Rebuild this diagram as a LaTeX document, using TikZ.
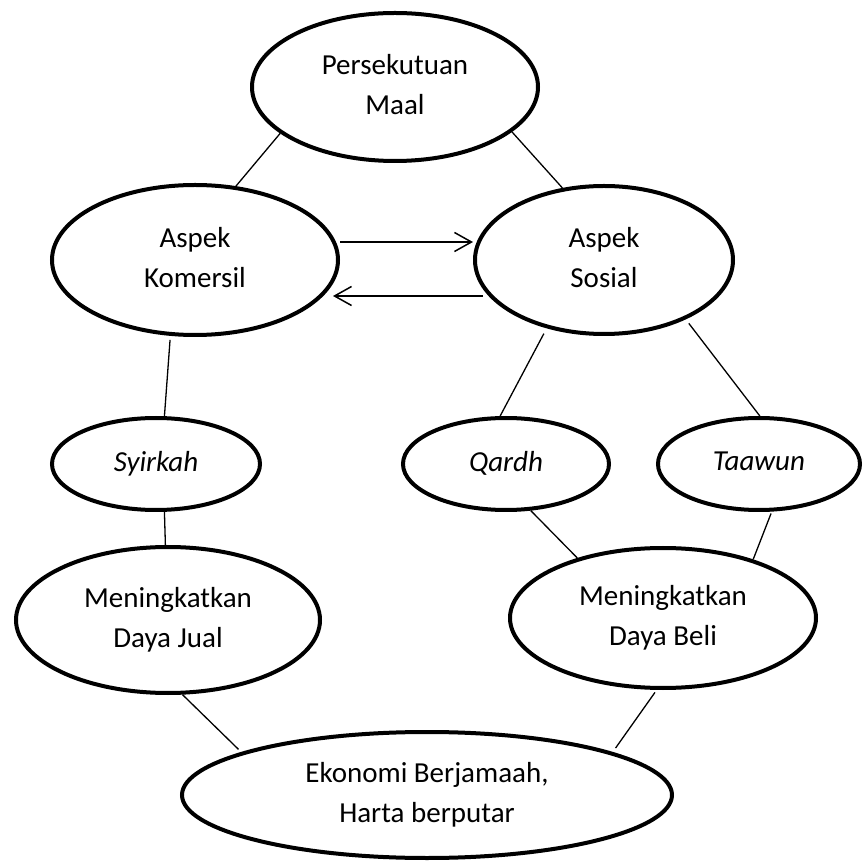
\documentclass[tikz,border=0pt]{standalone}
\usepackage{fontspec}
\setmainfont{Carlito}
\usetikzlibrary{shapes.geometric,arrows.meta}
% uniform line strut: 20pt above the baseline, 6pt below
\newcommand{\lnstrut}{\rule[-6pt]{0pt}{26pt}}
\begin{document}
\begin{tikzpicture}[x=1pt,y=1pt,
  bubble/.style={ellipse,draw=black,line width=4pt,inner sep=0pt,align=center,
    font=\fontsize{29}{40}\selectfont},
  link/.style={line width=1.3pt},
  flow/.style={line width=1.5pt,-{Straight Barb[length=17pt,width=19pt,line width=1.5pt]}}]
\useasboundingbox (0,0) rectangle (865,863);

% top level
\node[bubble,minimum width=286pt,minimum height=148pt] (pm) at (395,776)
  {\lnstrut Persekutuan\\\lnstrut Maal};

% the two aspects
\node[bubble,minimum width=286pt,minimum height=150pt] (ak) at (195,603)
  {\lnstrut Aspek\\\lnstrut Komersil};
\node[bubble,minimum width=258pt,minimum height=148pt] (as) at (604,603)
  {\lnstrut Aspek\\\lnstrut Sosial};

% instruments
\node[bubble,minimum width=208pt,minimum height=92pt] (sy) at (156,399) {\lnstrut\itshape Syirkah};
\node[bubble,minimum width=206pt,minimum height=92pt] (qa) at (506,399) {\lnstrut\itshape Qardh};
\node[bubble,minimum width=202pt,minimum height=92pt] (ta) at (759,399) {\lnstrut\itshape Taawun};

% effects
\node[bubble,minimum width=304pt,minimum height=146pt] (dj) at (168,243)
  {\lnstrut Meningkatkan\\\lnstrut Daya Jual};
\node[bubble,minimum width=306pt,minimum height=140pt] (db) at (663,245)
  {\lnstrut Meningkatkan\\\lnstrut Daya Beli};

% outcome
\node[bubble,minimum width=490pt,minimum height=126pt] (ek) at (427,68)
  {\lnstrut Ekonomi Berjamaah,\\\lnstrut Harta berputar};

% connectors
\draw[link] (pm.202) -- (ak.61);
\draw[link] (pm.339) -- (as.120);
\draw[flow] ([yshift=18pt]ak.east) -- ([yshift=18pt]as.west);
\draw[flow] ([shift={(10pt,-36pt)}]as.west) -- ([shift={(-7pt,-36pt)}]ak.east);
\draw[link,shorten <=4pt] (ak.252) -- (sy.80);
\draw[link] (sy.280) -- (dj.92);
\draw[link,shorten <=6pt] (as.230) -- (qa.97);
\draw[link,shorten <=5pt] (as.324) -- (ta.89);
\draw[link] (qa.298) -- (db.145);
\draw[link,shorten <=2pt] (ta.285) -- (db.33);
\draw[link,shorten >=4pt] (dj.281) -- (ek.167);
\draw[link,shorten <=3pt,shorten >=5pt] (db.265) -- (ek.13);
\end{tikzpicture}
\end{document}
